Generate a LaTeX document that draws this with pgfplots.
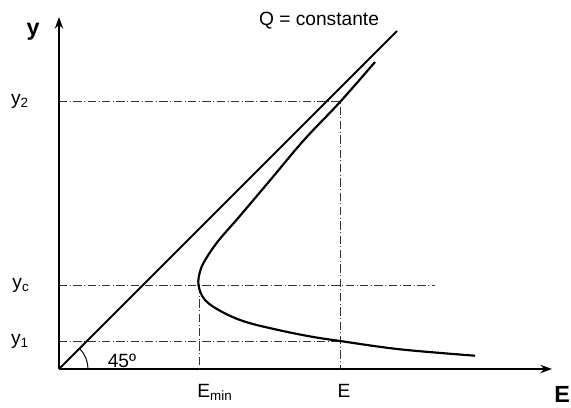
\documentclass[border=0pt]{standalone}
\usepackage{pgfplots}
\pgfplotsset{compat=1.18}
\usepackage{fontspec}
\setmainfont{Liberation Sans}
\usetikzlibrary{arrows.meta}

% 1 data unit = 1 pixel of the reference, drawn at 0.6pt
\begin{document}
\fontsize{11.5}{14}\selectfont
\begin{tikzpicture}
\begin{axis}[
    anchor=origin, at={(0,0)},
    x=0.6pt, y=0.6pt,
    xmin=0, xmax=493, ymin=0, ymax=352,
    axis lines=left,
    axis line style={line width=1.1pt, -{Stealth[length=7pt,width=5pt]}},
    ticks=none,
    clip=false,
    guide/.style={black!80, line width=0.55pt, dash pattern=on 5pt off 1.5pt on 0.6pt off 1.5pt},
]
% guide lines (dash-dot)
\addplot[guide] coordinates {(0,268)(281,268)(281,0)};
\addplot[guide] coordinates {(0,84)(376,84)};
\addplot[guide] coordinates {(140,84)(140,0)};
\addplot[guide] coordinates {(0,28)(281,28)};
% 45 degree line
\addplot[black, line width=1.2pt] coordinates {(0,0)(338,338)};
% specific energy curve
\addplot[black, line width=1.3pt, smooth, tension=0.6] coordinates {
    (316,307)(281,267)(245,229)(213,191)(180,152)(160,129)
    (148,112)(141.5,99)(139.5,84)(146,69)(162.7,57.3)(186,47.3)
    (219.3,39)(252.7,32.3)(281,28)(341,19.7)(416,13.3)
};
% angle arc
\draw[black, line width=0.6pt] (axis cs:29,0) arc[start angle=0, end angle=45, radius=17.4pt];
\node at (axis cs:63,8) {45º};
% labels
\node[font=\bfseries\fontsize{14}{16}\selectfont] at (axis cs:-26,337) {y};
\node at (axis cs:-39,268) {y\textsubscript{2}};
\node at (axis cs:-38,84) {y\textsubscript{c}};
\node at (axis cs:-39,28) {y\textsubscript{1}};
\node[anchor=base west, inner sep=0pt] at (axis cs:138,-28) {E\textsubscript{min}};
\node[anchor=base, inner sep=0pt] at (axis cs:285,-28) {E};
\node[anchor=base west, inner sep=0pt, font=\bfseries\fontsize{14}{16}\selectfont] at (axis cs:495,-33) {E};
\node[anchor=base, inner sep=0pt] at (axis cs:260,343) {Q = constante};
\end{axis}
\pgfresetboundingbox
\path (-35.4pt,-22.8pt) rectangle (307.2pt,221.4pt);
\end{tikzpicture}
\end{document}
